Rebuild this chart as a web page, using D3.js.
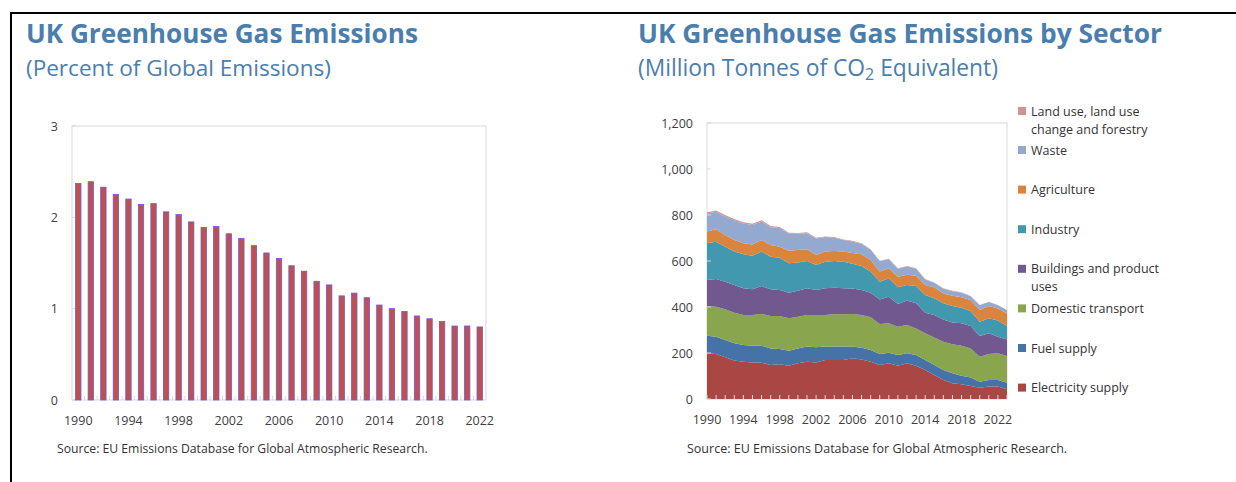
<!DOCTYPE html>
<html>
<head>
<meta charset="utf-8">
<script src="https://cdn.jsdelivr.net/npm/d3@7"></script>
<style>
  body { margin: 0; background: #fff; }
  svg { display: block; font-family: "Open Sans", "Noto Sans", sans-serif; }
</style>
</head>
<body>
<svg id="chart" width="1236" height="482"></svg>
<script>
// UK share of global greenhouse gas emissions (percent)
const shareYears = [1990,1991,1992,1993,1994,1995,1996,1997,1998,1999,2000,2001,2002,2003,2004,2005,2006,2007,2008,2009,2010,2011,2012,2013,2014,2015,2016,2017,2018,2019,2020,2021,2022];
const shareValues = [2.37,2.39,2.33,2.25,2.20,2.14,2.15,2.06,2.03,1.95,1.89,1.90,1.82,1.77,1.69,1.61,1.55,1.47,1.41,1.30,1.26,1.14,1.17,1.12,1.04,1.00,0.97,0.92,0.89,0.86,0.81,0.81,0.80];
const shareTicks = [0, 1, 2, 3];
const shareYearLabels = [1990,1994,1998,2002,2006,2010,2014,2018,2022];

// UK emissions by sector (MtCO2e), stacked bottom to top
const sectorYears = [1990,1991,1992,1993,1994,1995,1996,1997,1998,1999,2000,2001,2002,2003,2004,2005,2006,2007,2008,2009,2010,2011,2012,2013,2014,2015,2016,2017,2018,2019,2020,2021,2022,2023];
const electricity = [199,196,181,167,162,159,158,148,151,145,155,162,159,170,170,170,177,172,162,148,155,145,155,145,126,104,83,68,64,57,49,54,54,42];
const fuelSupply  = [76,75,76,75,73,73,74,72,66,65,65,66,66,58,58,58,51,51,51,48,46,46,44,46,44,44,43,44,37,36,26,29,29,29];
const transport   = [129,130,133,133,130,133,138,141,144,141,138,137,140,137,140,140,142,142,142,130,128,123,123,116,116,119,123,126,131,127,109,113,116,116];
const buildings   = [113,121,120,121,116,112,121,116,113,111,113,116,109,116,116,113,110,109,107,107,116,99,106,109,89,98,97,95,97,97,90,90,72,72];
const industry    = [160,162,152,145,148,146,150,142,140,128,123,119,109,116,116,116,108,104,92,77,80,73,68,75,77,73,70,71,68,66,62,65,70,58];
const agriculture = [51,54,51,50,48,49,50,51,48,55,54,51,43,44,43,44,47,51,50,44,43,45,44,45,44,48,43,45,45,47,51,53,53,55];
const waste       = [78,76,81,87,86,85,81,77,82,74,70,70,72,63,58,50,50,45,45,45,40,35,36,30,24,19,20,20,20,17,21,18,14,14];
const landUse     = [6,6,6,5,5,5,5,5,4,4,4,4,3,3,3,3,3,3,2,2,2,2,2,2,2,2,2,2,2,1,1,1,1,1];
const sectorTicks = [0, 200, 400, 600, 800, 1000, 1200];
const sectorYearLabels = [1990,1994,1998,2002,2006,2010,2014,2018,2022];

const sectors = [
  { key: "electricity", label: ["Electricity supply"], values: electricity, color: "#AA4643" },
  { key: "fuel", label: ["Fuel supply"], values: fuelSupply, color: "#4572A7" },
  { key: "transport", label: ["Domestic transport"], values: transport, color: "#89A54E" },
  { key: "buildings", label: ["Buildings and product", "uses"], values: buildings, color: "#71588F" },
  { key: "industry", label: ["Industry"], values: industry, color: "#4198AF" },
  { key: "agriculture", label: ["Agriculture"], values: agriculture, color: "#DB843D" },
  { key: "waste", label: ["Waste"], values: waste, color: "#93A9CF" },
  { key: "landuse", label: ["Land use, land use", "change and forestry"], values: landUse, color: "#D19392" }
];

const TITLE = "#4A7EAE", TEXT = "#404040", FRAME = "#D9D9D9";
const svg = d3.select("#chart");

// outer frame lines
svg.append("rect").attr("x", 10).attr("y", 12).attr("width", 1226).attr("height", 2).attr("fill", "#000");
svg.append("rect").attr("x", 10).attr("y", 12).attr("width", 2).attr("height", 470).attr("fill", "#000");

function fitWidth(sel, w) {
  const len = sel.node().getComputedTextLength();
  const fs = parseFloat(sel.attr("font-size"));
  sel.attr("font-size", (fs * w / len).toFixed(2));
}

function titles(x, title, titleW, subW, subtitleFn) {
  const t = svg.append("text").attr("x", x).attr("y", 43).attr("fill", TITLE)
    .attr("font-size", 26).attr("font-weight", 700).text(title);
  fitWidth(t, titleW);
  const s = svg.append("text").attr("x", x).attr("y", 76).attr("fill", TITLE)
    .attr("font-size", 20);
  subtitleFn(s);
  fitWidth(s, subW);
}

function source(x, w) {
  const s = svg.append("text").attr("x", x).attr("y", 453).attr("fill", "#333")
    .attr("font-size", 11).text("Source: EU Emissions Database for Global Atmospheric Research.");
  fitWidth(s, w);
}

// ---------- Left: share of global emissions ----------
titles(26, "UK Greenhouse Gas Emissions", 392, 305, s => s.text("(Percent of Global Emissions)"));

const L = { left: 72, right: 486, top: 126, bottom: 400 };
const xb = d3.scaleBand().domain(shareYears).range([L.left, L.right]).paddingInner(0.57).paddingOuter(0.285);
const yl = d3.scaleLinear().domain([0, 3]).range([L.bottom, L.top]);

const left = svg.append("g");
left.append("rect").attr("x", L.left).attr("y", L.top).attr("width", L.right - L.left)
  .attr("height", L.bottom - L.top).attr("fill", "none").attr("stroke", FRAME);

// small inner ticks between bars
left.selectAll("line.xt").data(shareYears.slice(1)).join("line")
  .attr("x1", d => xb(d) - xb.step() * xb.paddingInner() / 2)
  .attr("x2", d => xb(d) - xb.step() * xb.paddingInner() / 2)
  .attr("y1", L.bottom).attr("y2", L.bottom - 4).attr("stroke", FRAME);

left.selectAll("line.yt").data(shareTicks).join("line")
  .attr("x1", L.left).attr("x2", L.left + 4)
  .attr("y1", d => yl(d)).attr("y2", d => yl(d)).attr("stroke", FRAME);

left.selectAll("rect.bar").data(shareYears).join("rect")
  .attr("class", "bar")
  .attr("x", d => xb(d))
  .attr("width", xb.bandwidth())
  .attr("y", (d, i) => yl(shareValues[i]))
  .attr("height", (d, i) => yl(0) - yl(shareValues[i]))
  .attr("fill", "#C0504D")
  .attr("stroke", "#6A5ADF").attr("stroke-width", 0.8);

left.selectAll("text.yl").data(shareTicks).join("text")
  .attr("x", 58).attr("y", d => yl(d) + 4.5).attr("text-anchor", "end")
  .attr("font-size", 12.5).attr("fill", TEXT).text(d => d);

left.selectAll("text.xl").data(shareYearLabels).join("text")
  .attr("x", d => xb(d) + xb.bandwidth() / 2).attr("y", 424.5).attr("text-anchor", "middle")
  .attr("font-size", 12.5).attr("fill", TEXT).text(d => d);

source(57, 371);

// ---------- Right: emissions by sector ----------
titles(638, "UK Greenhouse Gas Emissions by Sector", 524, 360, s => {
  s.append("tspan").text("(Million Tonnes of CO");
  s.append("tspan").attr("font-size", "70%").attr("dy", 4).text("2");
  s.append("tspan").attr("dy", -4).text(" Equivalent)");
});

const R = { left: 707, right: 1007, top: 123, bottom: 399 };
const xr = d3.scaleLinear().domain([1990, 2023]).range([R.left, R.right]);
const yr = d3.scaleLinear().domain([0, 1200]).range([R.bottom, R.top]);

const rows = sectorYears.map((year, i) => {
  const row = { year };
  sectors.forEach(s => row[s.key] = s.values[i]);
  return row;
});
const stacked = d3.stack().keys(sectors.map(s => s.key))(rows);

const right = svg.append("g");
right.append("rect").attr("x", R.left).attr("y", R.top).attr("width", R.right - R.left)
  .attr("height", R.bottom - R.top).attr("fill", "none").attr("stroke", FRAME);

const area = d3.area()
  .x(d => xr(d.data.year))
  .y0(d => yr(d[0]))
  .y1(d => yr(d[1]));

right.selectAll("path.layer").data(stacked).join("path")
  .attr("d", area)
  .attr("fill", (d, i) => sectors[i].color);

right.selectAll("line.xt").data(sectorYears).join("line")
  .attr("x1", d => xr(d)).attr("x2", d => xr(d))
  .attr("y1", R.bottom).attr("y2", R.bottom - 4).attr("stroke", FRAME);

right.selectAll("line.yt").data(sectorTicks).join("line")
  .attr("x1", R.left).attr("x2", R.left + 4)
  .attr("y1", d => yr(d)).attr("y2", d => yr(d)).attr("stroke", FRAME);

right.selectAll("text.yl").data(sectorTicks).join("text")
  .attr("x", 693).attr("y", d => yr(d) + 4.5).attr("text-anchor", "end")
  .attr("font-size", 12.5).attr("fill", TEXT).text(d => d3.format(",")(d));

right.selectAll("text.xl").data(sectorYearLabels).join("text")
  .attr("x", d => xr(d)).attr("y", 424).attr("text-anchor", "middle")
  .attr("font-size", 12.5).attr("fill", TEXT).text(d => d);

// legend, top entry first
const legend = svg.append("g");
sectors.slice().reverse().forEach((s, k) => {
  const baseY = k === 0 ? 111 : 150 + 39.6 * (k - 1);
  legend.append("rect").attr("x", 1018).attr("y", baseY - 4).attr("width", 8).attr("height", 8)
    .attr("fill", s.color);
  s.label.forEach((line, j) => {
    legend.append("text").attr("x", 1031).attr("y", baseY + 4.5 + j * 18)
      .attr("font-size", 12.5).attr("fill", "#333").text(line);
  });
});

source(687, 380);
</script>
</body>
</html>
